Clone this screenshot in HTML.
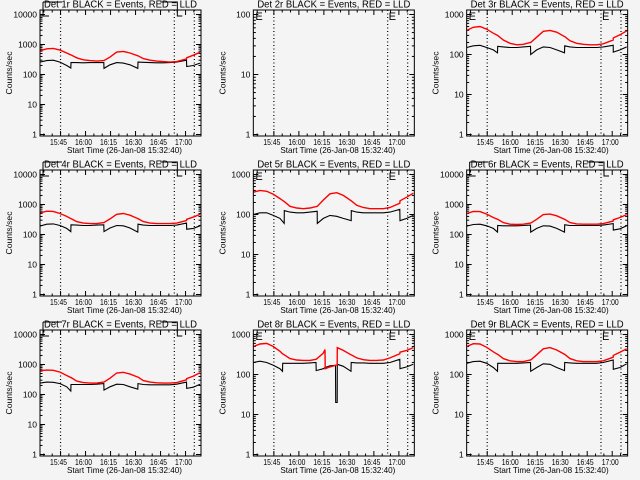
<!DOCTYPE html>
<html><head><meta charset="utf-8">
<style>
html,body{margin:0;padding:0;background:#f4f4f4;}
svg{display:block;font-family:"Liberation Sans",sans-serif;}
</style></head>
<body>
<svg id="chart" width="640" height="480" viewBox="0 0 640 480" xmlns="http://www.w3.org/2000/svg">
<rect x="0" y="0" width="640" height="480" fill="#f4f4f4"/>
</svg>
<script>
// shared sample times in minutes after 15:32:40
const times = [0,4,8,12,16,18.5,18.6,22,26,30,34,38.3,38.4,42,46,50,54,58.7,58.8,62,66,70,74,78,82,87.9,88,92,96];
const times8 = [0,4,8,12,16,17.5,17.6,22,26,30,34,37.6,37.7,42,43,43.1,46,49.3,49.4,50.3,50.4,54,58.6,58.7,62,66,70,74,78,82,87.9,88,92,96];
const panelTitles = ["Det 1r","Det 2r","Det 3r","Det 4r","Det 5r","Det 6r","Det 7r","Det 8r","Det 9r"];
const decades = [4,2,3,4,3,4,4,3,3];
const red1 = [620,720,740,650,520,450,450,360,310,290,280,290,290,380,560,590,520,420,420,340,300,280,270,260,270,330,360,440,550];
const black1 = [260,290,300,260,200,165,250,250,245,250,250,250,160,210,250,240,210,160,260,255,250,245,245,250,260,300,185,200,240];
const red3 = [400,480,500,430,340,300,300,230,190,175,180,200,200,270,380,400,360,280,280,220,190,180,175,175,185,230,260,310,390];
const black3 = [150,165,170,150,130,110,160,155,150,150,155,160,100,130,155,150,130,110,165,155,150,150,150,150,155,170,115,130,155];
const red4 = [520,600,590,500,400,340,340,270,240,230,230,250,250,330,470,500,440,340,340,270,240,230,230,230,240,290,320,380,470];
const black4 = [190,220,225,200,160,125,210,205,200,200,205,210,125,165,200,195,165,120,220,205,200,200,200,200,205,240,150,160,195];
const red5 = [360,400,380,320,250,210,210,160,145,140,145,160,160,230,330,350,300,220,220,170,150,140,140,140,150,190,220,270,340];
const black5 = [100,110,110,95,80,60,125,115,110,110,115,120,60,80,95,90,80,70,125,115,110,110,110,110,115,135,70,80,95];
const red6 = [500,590,580,480,370,320,320,250,220,215,220,240,240,320,460,480,420,320,320,250,225,220,220,220,230,280,310,370,460];
const black6 = [190,215,220,195,160,120,200,195,195,195,200,205,120,160,195,190,160,120,210,200,200,200,200,200,205,230,140,155,195];
const red7 = [620,650,640,560,430,370,370,280,250,240,240,260,260,350,520,550,480,380,380,290,260,245,240,240,250,310,340,410,530];
const black7 = [240,260,255,230,180,130,215,215,215,215,220,230,140,180,220,215,180,150,230,215,210,210,210,210,220,260,160,175,220];
const red8 = [500,580,600,500,380,330,330,250,230,225,225,240,240,340,420,140,155,170,170,175,470,400,310,310,260,235,225,225,230,260,330,360,400,470];
const black8 = [200,215,200,170,140,120,190,190,190,190,195,200,125,140,150,150,165,170,20,20,180,160,120,200,195,195,190,190,190,200,240,140,155,180];
const red9 = [500,590,580,480,370,320,320,250,220,210,210,230,230,310,440,470,410,320,320,250,220,210,210,210,220,270,300,360,440];
const black9 = [190,210,215,190,150,120,190,190,190,190,195,200,120,150,185,180,150,125,200,195,190,190,190,190,200,230,135,150,185];
const tickLabels = ["15:45","16:00","16:15","16:30","16:45","17:00"];
const tickTimes = [12.33,27.33,42.33,57.33,72.33,87.33];
const markerTimes = [12.33,80.6,92.6];
const yLabels = ["1","10","100","1000","10000"];

const redSeries = [red1,null,red3,red4,red5,red6,red7,red8,red9];
const blackSeries = [black1,null,black3,black4,black5,black6,black7,black8,black9];
const timeSeries = [times,times,times,times,times,times,times,times8,times];

const NS = "http://www.w3.org/2000/svg";
const svg = document.getElementById("chart");
function mk(tag, attrs, parent){const e=document.createElementNS(NS,tag);for(const k in attrs)e.setAttribute(k,attrs[k]);(parent||svg).appendChild(e);return e;}

const W = 161, TMAX = 96.6;
for (let p=0;p<9;p++){
  const c=p%3, r=Math.floor(p/3);
  const L = 40 + c*213.33, T = 10 + r*160, B = 136 + r*160;
  const nd = decades[p];
  const y0 = B - 1.5, dec = 120/nd;
  const xS = t => L + t*W/TMAX;
  const yS = v => y0 - Math.log10(v)*dec;
  const g = mk("g",{});
  
  
  const clipId = "clip"+p;
  const cp = mk("clipPath",{id:clipId},g);
  mk("rect",{x:L,y:T,width:W,height:B-T},cp);

  // title
  const title = mk("text",{x:L+W/2,y:T-2.5,"text-anchor":"middle","font-size":"10.5",textLength:"153",lengthAdjust:"spacingAndGlyphs",fill:"#000"},g);
  title.textContent = panelTitles[p] + " BLACK = Events, RED = LLD";
  
  

  // y-axis title
  const yt = mk("text",{x:0,y:0,transform:`translate(${L-28},${T+63}) rotate(-90)`,"text-anchor":"middle","font-size":"8",textLength:"43",lengthAdjust:"spacingAndGlyphs",fill:"#000"},g);
  yt.textContent = "Counts/sec";
  
  

  // x-axis title
  const xt = mk("text",{x:L+W/2+4,y:B+17,"text-anchor":"middle","font-size":"8.5",textLength:"115",lengthAdjust:"spacingAndGlyphs",fill:"#000"},g);
  xt.textContent = "Start Time (26-Jan-08 15:32:40)";
  
  

  // y ticks
  for (let d=0; d<=nd; d++){
    const y = yS(Math.pow(10,d));
    mk("line",{x1:L,x2:L+5,y1:y,y2:y,stroke:"#000","stroke-width":1},g);
    mk("line",{x1:L+W-5,x2:L+W,y1:y,y2:y,stroke:"#000","stroke-width":1},g);
    const lab = mk("text",{x:L-3,y:y+3,"text-anchor":"end","font-size":"8.5",fill:"#000"},g);
    lab.textContent = yLabels[d];
    
    
    if (d<nd){
      for (let m=2;m<=9;m++){
        const ym = yS(m*Math.pow(10,d));
        mk("line",{x1:L,x2:L+2.5,y1:ym,y2:ym,stroke:"#000","stroke-width":1},g);
        mk("line",{x1:L+W-2.5,x2:L+W,y1:ym,y2:ym,stroke:"#000","stroke-width":1},g);
      }
    }
  }
  // x ticks
  for (let t=2.33; t<TMAX; t+=5){
    const x=xS(t); const major = Math.abs(((t-12.33)%15+15)%15)<0.1;
    const len = major?5:2.5;
    mk("line",{x1:x,x2:x,y1:B,y2:B-len,stroke:"#000","stroke-width":1},g);
    mk("line",{x1:x,x2:x,y1:T,y2:T+len,stroke:"#000","stroke-width":1},g);
  }
  tickTimes.forEach((t,i)=>{
    const lab = mk("text",{x:xS(t)-2,y:B+9,"text-anchor":"middle","font-size":"8",textLength:"17",lengthAdjust:"spacingAndGlyphs",fill:"#000"},g);
    lab.textContent = tickLabels[i];
    
    
  });

  // dotted markers
  markerTimes.forEach(t=>{
    const ml = mk("line",{x1:xS(t),x2:xS(t),y1:T,y2:B,stroke:"#000","stroke-width":1.2,"stroke-dasharray":"1,2.5"},g);
    
    
  });

  // E markers
  if (nd===4){
    const em = mk("path",{d:`M${L+3},${T-8} H${L+22} M${L+3},${T-8} V${T+6} H${L+9} M${xS(80.6)-14},${T-8} H${xS(80.6)+3} V${T+6} H${xS(80.6)+8}`,fill:"none",stroke:"#000","stroke-width":1},g);
    
    
  } else {
    [L+2, xS(80.6)+1].forEach(x=>{
      const e = mk("text",{x:x,y:T+10,"font-size":"11",fill:"#000"},g);
      e.textContent = "E";
      
      
    });
  }

  // series
  const ts = timeSeries[p];
  if (blackSeries[p]){
    const bl = mk("polyline",{points:ts.map((t,i)=>xS(t).toFixed(1)+","+yS(blackSeries[p][i]).toFixed(1)).join(" "),fill:"none",stroke:"#000","stroke-width":1.1,"clip-path":`url(#${clipId})`},g);
    
    
  }
  if (redSeries[p]){
    const rl = mk("polyline",{points:ts.map((t,i)=>xS(t).toFixed(1)+","+yS(redSeries[p][i]).toFixed(1)).join(" "),fill:"none",stroke:"#ff0000","stroke-width":1.4,"clip-path":`url(#${clipId})`},g);
    
    
  }

  // frame
  const fr = mk("rect",{x:L,y:T,width:W,height:B-T,fill:"none",stroke:"#000","stroke-width":1},g);
  
  
}
</script>
</body></html>
